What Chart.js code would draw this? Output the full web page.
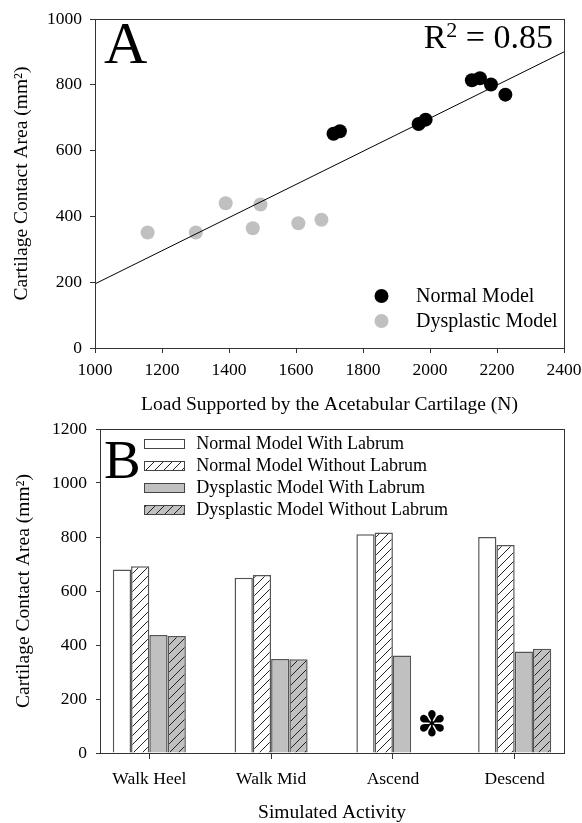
<!DOCTYPE html>
<html>
<head>
<meta charset="utf-8">
<script src="https://cdn.jsdelivr.net/npm/chart.js@4.4.0/dist/chart.umd.min.js"></script>
<style>
  html, body { margin: 0; padding: 0; background: #fff; }
  #wrap { position: relative; width: 582px; height: 823px; overflow: hidden; }
  canvas { position: absolute; left: 0; }
  #chart-a { top: 0; }
  #chart-b { top: 418px; }
</style>
</head>
<body>
<div id="wrap">
  <canvas id="chart-a" width="582" height="418"></canvas>
  <canvas id="chart-b" width="582" height="405"></canvas>
</div>
<script>
// --- PANEL A: load vs contact area ---
const normalLoad = [1712, 1731, 1966, 1987, 2125, 2149, 2182, 2225];
const normalArea = [651, 659, 681, 694, 814, 820, 801, 770];
const dysplasticLoad = [1157, 1301, 1390, 1494, 1471, 1607, 1676];
const dysplasticArea = [351, 351, 440, 436, 364, 379, 390];
const fitLoad = [1000, 2400];
const fitArea = [195, 900];
const loadTicks = [1000, 1200, 1400, 1600, 1800, 2000, 2200, 2400];
const areaTicksA = [0, 200, 400, 600, 800, 1000];

// --- PANEL B: contact area per activity ---
const activities = ['Walk Heel', 'Walk Mid', 'Ascend', 'Descend'];
const normalWithLabrum = [680, 649, 810, 800];
const normalWithoutLabrum = [692, 659, 817, 770];
const dysplasticWithLabrum = [437, 348, 361, 376];
const dysplasticWithoutLabrum = [433, 347, null, 386];
const areaTicksB = [0, 200, 400, 600, 800, 1000, 1200];

const SERIF = '"Liberation Serif", "Times New Roman", serif';
const GRAY = '#c0c0c0';
const LINE = '#333';

function pts(xs, ys) {
  return xs.map((x, i) => ({ x: x, y: ys[i] }));
}

function hatch(bg) {
  const c = document.createElement('canvas');
  c.width = 9;
  c.height = 9;
  const g = c.getContext('2d');
  g.fillStyle = bg;
  g.fillRect(0, 0, 9, 9);
  g.strokeStyle = '#222';
  g.lineWidth = 1;
  g.beginPath();
  g.moveTo(0, 9); g.lineTo(9, 0);
  g.moveTo(-1, 1); g.lineTo(1, -1);
  g.moveTo(8, 10); g.lineTo(10, 8);
  g.stroke();
  return g.createPattern(c, 'repeat');
}

// box around the plot area (top + right edges)
const framePlugin = {
  id: 'frame',
  afterDraw(chart) {
    const { ctx, chartArea: a } = chart;
    ctx.save();
    ctx.strokeStyle = LINE;
    ctx.lineWidth = 1;
    ctx.strokeRect(Math.round(a.left) + 0.5, Math.round(a.top) + 0.5,
      Math.round(a.width), Math.round(a.height));
    ctx.restore();
  }
};

function axisOpts(ticks, tickLen, pad, fitSize, isX, title, titlePad) {
  return {
    type: 'linear',
    offset: false,
    min: ticks[0],
    max: ticks[ticks.length - 1],
    afterBuildTicks: s => { s.ticks = ticks.map(v => ({ value: v })); },
    afterFit: s => {
      if (isX) s.height = fitSize; else s.width = fitSize;
      // let layout.padding alone decide where the plot area sits
      s.paddingLeft = s.paddingRight = s.paddingTop = s.paddingBottom = 0;
    },
    grid: { drawOnChartArea: false, offset: false, tickLength: tickLen, color: LINE },
    border: { color: LINE },
    ticks: {
      color: '#000', padding: pad, maxRotation: 0, autoSkip: false,
      font: { family: SERIF, size: 17.5 },
      callback: v => String(v)
    },
    title: {
      display: true, text: title, color: '#000',
      font: { family: SERIF, size: 19.5, lineHeight: 1 },
      padding: titlePad
    }
  };
}

// --- CHART A ---
const notesA = {
  id: 'notesA',
  afterDraw(chart) {
    const { ctx, chartArea: a } = chart;
    ctx.save();
    ctx.fillStyle = '#000';
    ctx.textAlign = 'left';
    ctx.textBaseline = 'alphabetic';
    ctx.font = '60px ' + SERIF;
    ctx.fillText('A', a.left + 9, a.top + 44);

    // R^2 label, right aligned
    const big = '34px ' + SERIF, small = '22px ' + SERIF;
    ctx.font = big;
    const wR = ctx.measureText('R').width;
    const wRest = ctx.measureText(' = 0.85').width;
    ctx.font = small;
    const w2 = ctx.measureText('2').width;
    let x = a.right - 11 - (wR + w2 + wRest);
    const base = a.top + 29;
    ctx.font = big; ctx.fillText('R', x, base); x += wR;
    ctx.font = small; ctx.fillText('2', x, base - 11); x += w2;
    ctx.font = big; ctx.fillText(' = 0.85', x, base);

    // legend
    const items = chart.data.datasets.filter(d => d.pointRadius > 0);
    ctx.font = '20px ' + SERIF;
    ctx.textBaseline = 'middle';
    items.forEach((d, i) => {
      const y = a.bottom - 52 + i * 25;
      ctx.fillStyle = d.backgroundColor;
      ctx.beginPath();
      ctx.arc(a.left + 286.5, y, 7, 0, Math.PI * 2);
      ctx.fill();
      ctx.fillStyle = '#000';
      ctx.fillText(d.label, a.left + 321, y + 1);
    });
    ctx.restore();
  }
};

new Chart(document.getElementById('chart-a'), {
  type: 'scatter',
  data: {
    datasets: [
      {
        label: 'Normal Model',
        data: pts(normalLoad, normalArea),
        backgroundColor: '#000', borderWidth: 0,
        pointRadius: 7, pointHoverRadius: 7
      },
      {
        type: 'line',
        label: 'fit',
        data: pts(fitLoad, fitArea),
        borderColor: '#000', borderWidth: 1,
        pointRadius: 0, fill: false, tension: 0
      },
      {
        label: 'Dysplastic Model',
        data: pts(dysplasticLoad, dysplasticArea),
        backgroundColor: GRAY, borderWidth: 0,
        pointRadius: 7, pointHoverRadius: 7
      }
    ]
  },
  options: {
    responsive: false,
    animation: false,
    events: [],
    layout: { padding: { top: 19, right: 18, left: 0, bottom: 0 } },
    plugins: { legend: { display: false }, tooltip: { enabled: false } },
    scales: {
      x: axisOpts(loadTicks, 5, 7, 70, true,
        'Load Supported by the Acetabular Cartilage (N)', { top: 0, bottom: 3 }),
      y: axisOpts(areaTicksA, 5, 8, 95, false,
        'Cartilage Contact Area (mm²)', { top: 12, bottom: 0 })
    }
  },
  plugins: [framePlugin, notesA]
});

// --- CHART B ---
const whiteHatch = hatch('#fff');
const grayHatch = hatch(GRAY);
const starNote = { x: 3.32, y: 96 };

const notesB = {
  id: 'notesB',
  afterDraw(chart) {
    const { ctx, chartArea: a } = chart;
    ctx.save();
    ctx.fillStyle = '#000';
    ctx.textAlign = 'left';
    ctx.textBaseline = 'alphabetic';
    ctx.font = '55px ' + SERIF;
    ctx.fillText('B', a.left + 4, a.top + 49);

    ctx.font = '18px ' + SERIF;
    ctx.textBaseline = 'middle';
    chart.data.datasets.forEach((d, i) => {
      const y = a.top + 14.5 + i * 22;
      ctx.fillStyle = d.backgroundColor;
      ctx.fillRect(a.left + 44.5, Math.round(y - 4.5), 40, 9);
      ctx.strokeStyle = '#444';
      ctx.lineWidth = 1;
      ctx.strokeRect(a.left + 44.5, Math.round(y - 4.5) + 0.5, 40, 9);
      ctx.fillStyle = '#000';
      ctx.fillText(d.label, a.left + 96.3, y + 1);
    });

    // marker for the missing bar
    const sx = chart.scales.x.getPixelForValue(starNote.x);
    const sy = chart.scales.y.getPixelForValue(starNote.y);
    ctx.font = 'bold 35px "DejaVu Sans"';
    ctx.textAlign = 'center';
    ctx.fillText('✽', sx, sy);
    ctx.restore();
  }
};

function barSet(label, values, fill) {
  return {
    label: label,
    data: values.map((v, i) => ({ x: i + 1, y: v })),
    backgroundColor: fill,
    borderColor: '#555',
    borderWidth: 1.5,
    barPercentage: 1,
    categoryPercentage: 0.6
  };
}

const xB = axisOpts([1, 2, 3, 4], 6, 10, 70, true, 'Simulated Activity', { top: 0, bottom: 0 });
xB.min = 0.595;
xB.max = 4.405;
xB.ticks.callback = v => activities[v - 1];
xB.border.color = '#000';

const yB = axisOpts(areaTicksB, 4, 9, 100, false, 'Cartilage Contact Area (mm²)', { top: 14, bottom: 0 });
yB.border.color = '#000';

new Chart(document.getElementById('chart-b'), {
  type: 'bar',
  data: {
    datasets: [
      barSet('Normal Model With Labrum', normalWithLabrum, '#fff'),
      barSet('Normal Model Without Labrum', normalWithoutLabrum, whiteHatch),
      barSet('Dysplastic Model With Labrum', dysplasticWithLabrum, GRAY),
      barSet('Dysplastic Model Without Labrum', dysplasticWithoutLabrum, grayHatch)
    ]
  },
  options: {
    responsive: false,
    animation: false,
    events: [],
    layout: { padding: { top: 11, right: 18, left: 0, bottom: 0 } },
    plugins: { legend: { display: false }, tooltip: { enabled: false } },
    scales: { x: xB, y: yB }
  },
  plugins: [framePlugin, notesB]
});
</script>
</body>
</html>
